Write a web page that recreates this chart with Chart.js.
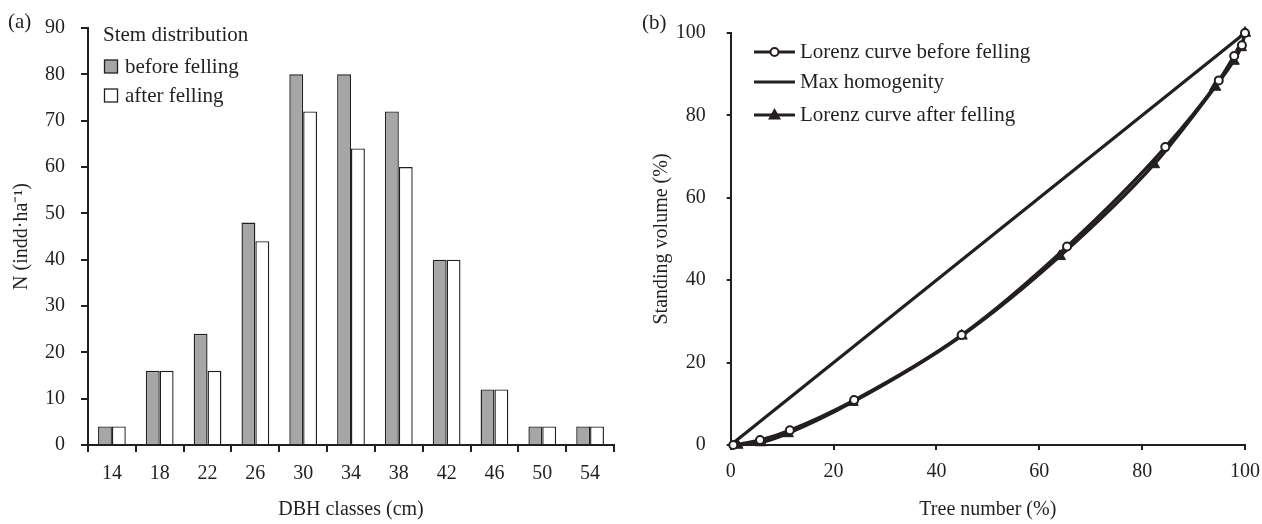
<!DOCTYPE html>
<html>
<head>
<meta charset="utf-8">
<script src="https://cdn.jsdelivr.net/npm/chart.js@4.4.0/dist/chart.umd.min.js"></script>
<style>
  html, body { margin: 0; padding: 0; background: #fff; overflow: hidden; width: 1262px; height: 524px; }
  canvas { position: absolute; top: 0; }
  #cA { left: 0; }
  #cB { left: 620px; }
</style>
</head>
<body>
<canvas id="cA" width="620" height="524"></canvas>
<canvas id="cB" width="650" height="524"></canvas>
<script>
// ---------- DATA ----------
const dbhClasses = ['14', '18', '22', '26', '30', '34', '38', '42', '46', '50', '54'];
const beforeFelling = [4, 16, 24, 48, 80, 80, 72, 40, 12, 4, 4];
const afterFelling  = [4, 16, 16, 44, 72, 64, 60, 40, 12, 4, 4];

const lorenzBeforeX = [0.5, 5.7, 11.5, 24.0, 44.9, 65.4, 84.5, 94.9, 97.9, 99.4, 100];
const lorenzBeforeY = [0, 1.2, 3.6, 10.9, 26.7, 48.2, 72.3, 88.5, 94.4, 97.0, 100];
const lorenzAfterX  = [1.3, 5.9, 11.1, 23.7, 44.9, 64.0, 82.3, 94.2, 97.8, 99.2, 100];
const lorenzAfterY  = [0, 0.6, 2.8, 10.4, 26.5, 45.8, 68.1, 86.9, 93.2, 96.5, 100];
const homogX = [0, 100];
const homogY = [0, 100];

const labelsA = { panel: '(a)', legendTitle: 'Stem distribution', before: 'before felling', after: 'after felling',
                  x: 'DBH classes (cm)', y: 'N (indd·ha⁻¹)' };
const labelsB = { panel: '(b)', before: 'Lorenz curve before felling', homog: 'Max homogenity', after: 'Lorenz curve after felling',
                  x: 'Tree number (%)', y: 'Standing volume (%)' };

// ---------- STYLE ----------
const INK = '#231f20';
const FONT = 'Liberation Serif';
Chart.defaults.font.family = FONT;
Chart.defaults.font.size = 20;
Chart.defaults.color = INK;

function zip(xs, ys) { return xs.map((x, i) => ({ x: x, y: ys[i] })); }

// ---------- PANEL A ----------
const legendA = {
  id: 'legendA',
  afterDraw(chart) {
    const ctx = chart.ctx;
    ctx.save();
    ctx.font = '21px "' + FONT + '"';
    ctx.fillStyle = INK;
    ctx.textBaseline = 'middle';
    ctx.textAlign = 'left';
    ctx.fillText(labelsA.panel, 8, 22);
    ctx.fillText(labelsA.legendTitle, 103, 35);
    const rows = [67, 96];
    chart.data.datasets.forEach((ds, i) => {
      const y = rows[i];
      ctx.fillStyle = ds.backgroundColor;
      ctx.fillRect(104.5, y - 7, 13, 13);
      ctx.strokeStyle = ds.borderColor;
      ctx.lineWidth = 1.3;
      ctx.strokeRect(104.5, y - 7, 13, 13);
      ctx.fillStyle = INK;
      ctx.fillText(ds.label, 125, y);
    });
    ctx.restore();
  }
};

new Chart(document.getElementById('cA'), {
  type: 'bar',
  data: {
    labels: dbhClasses,
    datasets: [
      { label: labelsA.before, data: beforeFelling, backgroundColor: '#a6a6a6', borderColor: INK, borderWidth: 1.4,
        categoryPercentage: 0.58, barPercentage: 1.0 },
      { label: labelsA.after, data: afterFelling, backgroundColor: '#ffffff', borderColor: INK, borderWidth: 1.4,
        categoryPercentage: 0.58, barPercentage: 1.0 }
    ]
  },
  options: {
    responsive: false,
    animation: false,
    layout: { padding: { left: 0, right: 6, top: 24, bottom: 0 } },
    plugins: { legend: { display: false }, tooltip: { enabled: false } },
    scales: {
      x: {
        grid: { drawOnChartArea: false, drawTicks: true, tickLength: 7, color: INK, lineWidth: 2, offset: true },
        border: { display: true, color: INK, width: 2 },
        ticks: { padding: 10, color: INK, font: { size: 20 }, maxRotation: 0 },
        title: { display: true, text: labelsA.x, color: INK, font: { size: 20 }, padding: { top: 0, bottom: 2 } },
        afterFit(s) { s.height = 79; }
      },
      y: {
        min: 0, max: 90,
        ticks: { stepSize: 10, padding: 16, color: INK, font: { size: 20 } },
        grid: { drawOnChartArea: false, drawTicks: true, tickLength: 7, color: INK, lineWidth: 2 },
        border: { display: true, color: INK, width: 2 },
        title: { display: true, text: labelsA.y, color: INK, font: { size: 20 }, padding: { top: 10, bottom: 0 } },
        afterFit(s) { s.width = 88; }
      }
    }
  },
  plugins: [legendA]
});

// ---------- PANEL B ----------
const legendB = {
  id: 'legendB',
  afterDraw(chart) {
    const ctx = chart.ctx;
    ctx.save();
    ctx.font = '21px "' + FONT + '"';
    ctx.fillStyle = INK;
    ctx.textBaseline = 'middle';
    ctx.textAlign = 'left';
    ctx.fillText(labelsB.panel, 22, 23);
    const rows = [52, 82, 115];
    const x0 = 134, x1 = 175;
    chart.data.datasets.forEach((ds, i) => {
      const y = rows[i];
      ctx.strokeStyle = ds.borderColor;
      ctx.lineWidth = ds.borderWidth;
      ctx.beginPath(); ctx.moveTo(x0, y); ctx.lineTo(x1, y); ctx.stroke();
      const cx = (x0 + x1) / 2;
      if (ds.pointStyle === 'circle') {
        ctx.beginPath(); ctx.arc(cx, y, 4, 0, Math.PI * 2);
        ctx.fillStyle = '#fff'; ctx.fill();
        ctx.lineWidth = 2; ctx.stroke();
      } else if (ds.pointStyle === 'triangle') {
        ctx.beginPath();
        ctx.moveTo(cx, y - 7); ctx.lineTo(cx + 6.5, y + 4.5); ctx.lineTo(cx - 6.5, y + 4.5); ctx.closePath();
        ctx.fillStyle = INK; ctx.fill();
      }
      ctx.fillStyle = INK;
      ctx.fillText(ds.label, 180, y);
    });
    ctx.restore();
  }
};

new Chart(document.getElementById('cB'), {
  type: 'line',
  data: {
    datasets: [
      { label: labelsB.before, data: zip(lorenzBeforeX, lorenzBeforeY), borderColor: INK, borderWidth: 3.2,
        pointStyle: 'circle', pointRadius: 4, pointBorderWidth: 2, pointBackgroundColor: '#fff', pointBorderColor: INK,
        tension: 0.4, cubicInterpolationMode: 'monotone', fill: false, order: 1, clip: false },
      { label: labelsB.homog, data: zip(homogX, homogY), borderColor: INK, borderWidth: 3.2,
        pointStyle: false, pointRadius: 0, fill: false, order: 3, clip: false },
      { label: labelsB.after, data: zip(lorenzAfterX, lorenzAfterY), borderColor: INK, borderWidth: 3.2,
        pointStyle: 'triangle', pointRadius: 6.5, pointBorderWidth: 1, pointBackgroundColor: INK, pointBorderColor: INK,
        tension: 0.4, cubicInterpolationMode: 'monotone', fill: false, order: 2, clip: false }
    ]
  },
  options: {
    responsive: false,
    animation: false,
    layout: { padding: { left: 0, right: 21.7, top: 26.7, bottom: 0 } },
    plugins: { legend: { display: false }, tooltip: { enabled: false } },
    scales: {
      x: {
        type: 'linear', min: 0, max: 100,
        ticks: { stepSize: 20, padding: 10, color: INK, font: { size: 20 }, maxRotation: 0 },
        grid: { drawOnChartArea: false, drawTicks: true, tickLength: 5, color: INK, lineWidth: 2 },
        border: { display: true, color: INK, width: 2 },
        title: { display: true, text: labelsB.x, color: INK, font: { size: 20 }, padding: { top: 0, bottom: 2 } },
        afterFit(s) { s.height = 79; }
      },
      y: {
        min: 0, max: 100,
        ticks: { stepSize: 20, padding: 21, color: INK, font: { size: 20 } },
        grid: { drawOnChartArea: false, drawTicks: true, tickLength: 4, color: INK, lineWidth: 2 },
        border: { display: true, color: INK, width: 2 },
        title: { display: true, text: labelsB.y, color: INK, font: { size: 20 }, padding: { top: 30, bottom: 0 } },
        afterFit(s) { s.width = 110.7; }
      }
    }
  },
  plugins: [legendB]
});
</script>
</body>
</html>
